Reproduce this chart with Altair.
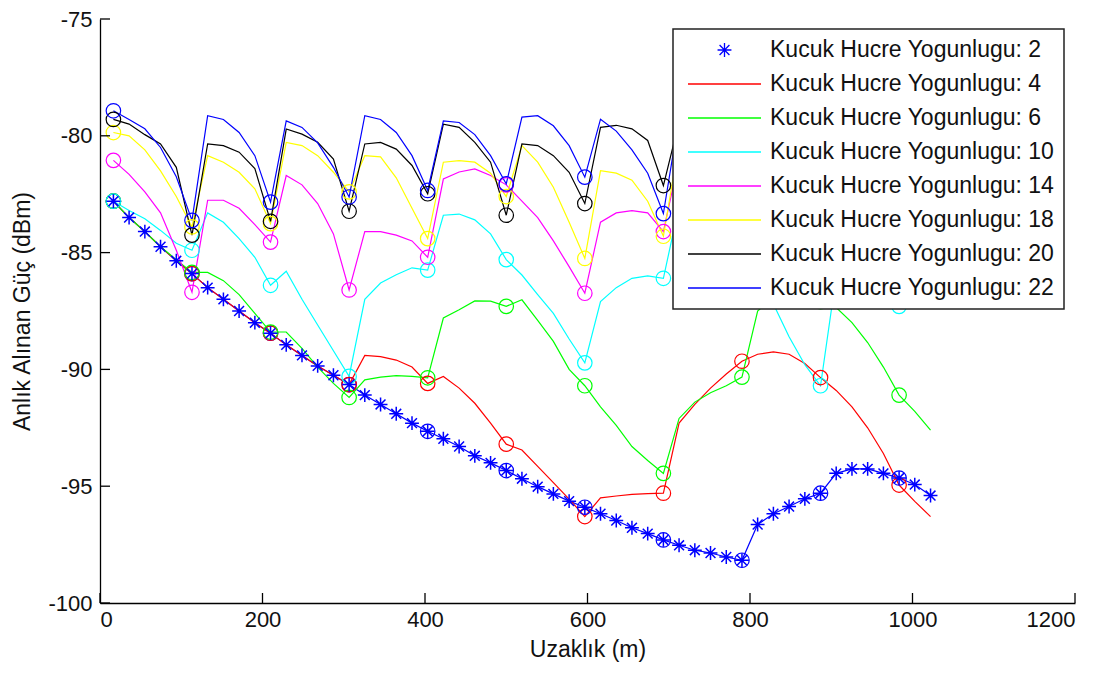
import altair as alt
import pandas as pd

# ---------------- data ----------------
distance_m = [16.5, 35.8, 55.2, 74.5, 93.9, 113.2, 132.5, 151.9, 171.2, 190.6,
              209.9, 229.2, 248.6, 267.9, 287.3, 306.6, 325.9, 345.3, 364.6, 384.0,
              403.3, 422.6, 442.0, 461.3, 480.7, 500.0, 519.3, 538.7, 558.0, 577.4,
              596.7, 616.0, 635.4, 654.7, 674.1, 693.4, 712.7, 732.1, 751.4, 770.8,
              790.1, 809.4, 828.8, 848.1, 867.5, 886.8, 906.1, 925.5, 944.8, 964.2,
              983.5, 1002.8, 1022.2]

labels = ["Kucuk Hucre Yogunlugu: 2", "Kucuk Hucre Yogunlugu: 4",
          "Kucuk Hucre Yogunlugu: 6", "Kucuk Hucre Yogunlugu: 10",
          "Kucuk Hucre Yogunlugu: 14", "Kucuk Hucre Yogunlugu: 18",
          "Kucuk Hucre Yogunlugu: 20", "Kucuk Hucre Yogunlugu: 22"]
colors = ["#0000FF", "#FF0000", "#00FF00", "#00FFFF",
          "#FF00FF", "#FFFF00", "#000000", "#0000FF"]

power_2 = [-82.8, -83.5, -84.1, -84.75, -85.35, -85.9, -86.5, -87.0, -87.5, -88.0,
           -88.45, -88.95, -89.4, -89.85, -90.25, -90.65, -91.1, -91.5, -91.9, -92.3,
           -92.65, -92.97, -93.3, -93.7, -94.0, -94.33, -94.68, -95.02, -95.33, -95.64,
           -95.9, -96.18, -96.47, -96.78, -97.03, -97.3, -97.53, -97.74, -97.86, -98.03,
           -98.17, -96.64, -96.18, -95.87, -95.54, -95.3, -94.45, -94.26, -94.26, -94.45,
           -94.65, -94.93, -95.4]
power_4 = [-82.8, -83.5, -84.1, -84.75, -85.35, -85.9, -86.5, -87.0, -87.5, -88.0,
           -88.45, -88.95, -89.4, -89.85, -90.25, -90.65, -89.4, -89.45, -89.6, -89.9,
           -90.6, -90.3, -90.8, -91.45, -92.3, -93.2, -93.45, -94.15, -94.85, -95.55,
           -96.3, -95.5, -95.42, -95.35, -95.32, -95.3, -92.3, -91.5, -90.8, -90.2,
           -89.65, -89.35, -89.25, -89.35, -89.75, -90.35, -90.9, -91.6, -92.5, -93.6,
           -94.95, -95.65, -96.3]
power_6 = [-82.8, -83.5, -84.1, -84.75, -85.3, -85.85, -85.85, -86.2, -86.8, -87.6,
           -88.4, -88.4, -89.1, -89.9, -90.6, -91.2, -90.45, -90.33, -90.27, -90.3,
           -90.36, -87.8, -87.45, -87.07, -87.08, -87.3, -87.02, -87.9, -88.8, -90.0,
           -90.7, -91.6, -92.4, -93.3, -93.9, -94.45, -92.1, -91.4, -91.0, -90.7,
           -90.33, -87.5, -86.9, -86.8, -86.9, -87.1, -87.35, -88.0, -88.85, -89.9,
           -91.1, -91.8, -92.6]
power_10 = [-82.8, -83.2, -83.55, -84.05, -84.6, -84.9, -83.3, -83.7, -84.4, -85.2,
            -86.4, -85.8, -87.0, -88.1, -89.2, -90.3, -87.0, -86.3, -85.95, -85.65,
            -85.75, -83.4, -83.35, -83.6, -84.2, -85.3, -85.96, -86.8, -87.6, -88.7,
            -89.72, -87.1, -86.5, -86.1, -86.0, -86.1, -83.0, -82.9, -83.5, -84.5,
            -86.0, -85.5, -87.2, -88.6, -89.8, -90.7, -86.0, -85.8, -86.0, -86.5,
            -87.3, -85.5, -85.8]
power_14 = [-81.05, -81.65, -82.4, -83.3, -84.9, -86.7, -82.76, -82.76, -83.1, -83.8,
            -84.55, -81.7, -82.1, -82.9, -84.2, -86.6, -84.1, -84.1, -84.25, -84.5,
            -85.2, -81.85, -81.55, -81.42, -81.7, -82.1, -82.8, -83.5, -84.5, -85.6,
            -86.74, -83.7, -83.3, -83.2, -83.3, -84.1, -81.0, -81.2, -81.6, -82.3,
            -83.5, -81.2, -81.3, -81.6, -82.2, -83.3, -81.0, -81.1, -81.5, -82.2,
            -83.2, -81.5, -81.8]
power_18 = [-79.86, -80.0, -80.6, -81.5, -82.6, -83.9, -80.85, -81.13, -81.56, -82.27,
            -83.76, -80.28, -80.42, -80.85, -81.56, -82.4, -80.85, -80.9, -81.8, -83.1,
            -84.4, -81.13, -81.06, -81.13, -81.6, -82.6, -80.42, -81.13, -82.2, -83.7,
            -85.25, -81.49, -81.6, -81.9, -82.8, -84.3, -80.3, -80.5, -81.0, -81.9,
            -83.5, -80.5, -80.7, -81.2, -82.0, -83.5, -80.4, -80.6, -81.0, -81.8,
            -83.0, -81.0, -81.3]
power_20 = [-79.3, -79.5, -79.95, -80.35, -81.35, -84.25, -80.35, -80.42, -80.7, -81.4,
            -83.66, -79.71, -79.93, -80.28, -81.0, -83.23, -80.35, -80.28, -80.57, -81.27,
            -82.48, -79.5, -79.64, -80.28, -81.13, -83.4, -80.35, -80.42, -80.85, -81.56,
            -82.9, -79.64, -79.55, -79.7, -80.2, -82.13, -79.4, -79.3, -79.6, -80.3,
            -82.0, -79.5, -79.4, -79.7, -80.4, -82.0, -79.5, -79.4, -79.8, -80.5,
            -81.8, -79.6, -79.8]
power_22 = [-78.93, -79.3, -79.7, -80.5, -81.75, -83.62, -79.14, -79.3, -79.86, -80.85,
            -82.84, -79.36, -79.64, -80.3, -81.35, -82.62, -79.14, -79.3, -79.86, -80.85,
            -82.34, -79.36, -79.43, -79.95, -80.85, -82.06, -79.2, -79.14, -79.57, -80.42,
            -81.77, -79.29, -79.8, -80.6, -81.6, -83.33, -79.2, -79.3, -79.8, -80.7,
            -82.2, -79.2, -79.3, -79.8, -80.7, -82.2, -79.2, -79.3, -79.8, -80.6,
            -81.9, -79.3, -79.5]

series_values = [power_2, power_4, power_6, power_10,
                 power_14, power_18, power_20, power_22]

x_tick_values = [0, 200, 400, 600, 800, 1000, 1200]
y_tick_values = [-100, -95, -90, -85, -80, -75]

# legend symbols: '*' for the first series, a line for the others
star_path = ("M0,-0.19L0,0.19M-0.19,0L0.19,0"
             "M-0.135,-0.135L0.135,0.135M-0.135,0.135L0.135,-0.135")
legend_shapes = [star_path] + ["stroke"] * 7

rows = []
for k, (lab, vals) in enumerate(zip(labels, series_values)):
    for i, (d, v) in enumerate(zip(distance_m, vals)):
        rows.append({"series": lab, "k": k, "idx": i, "x": d, "y": v})
df = pd.DataFrame(rows)

W, H = 975, 584
FONT = "Liberation Sans"

x_scale = alt.Scale(domain=[0, 1200], nice=False, zero=False)
y_scale = alt.Scale(domain=[-100, -75], nice=False, zero=False)

x_axis = alt.Axis(values=x_tick_values, ticks=False, tickSize=0, grid=False,
                  domainColor="black", domainWidth=1.3,
                  labelFont=FONT, labelFontSize=22, labelColor="#111",
                  labelPadding=6, labelExpr="datum.value + ''",
                  titleFont=FONT, titleFontSize=23, titleFontWeight="normal",
                  titleColor="#111", titlePadding=8)
y_axis = alt.Axis(values=y_tick_values, ticks=False, tickSize=0, grid=False,
                  domainColor="black", domainWidth=1.3,
                  labelFont=FONT, labelFontSize=22, labelColor="#111",
                  labelPadding=8, labelExpr="datum.value + ''",
                  titleFont=FONT, titleFontSize=23, titleFontWeight="normal",
                  titleColor="#111", titlePadding=13)

X = alt.X("x:Q", scale=x_scale, axis=x_axis, title="Uzaklık (m)")
Y = alt.Y("y:Q", scale=y_scale, axis=y_axis, title="Anlık Alınan Güç (dBm)")

# plain stroke colours keyed by series number (separate scale, no legend)
stroke_plain = alt.Stroke("k:O", scale=alt.Scale(domain=list(range(8)), range=colors),
                          legend=None)

legend = alt.Legend(title=None, orient="none", legendX=573, legendY=10,
                    padding=9, fillColor="white", strokeColor="#222",
                    labelFont=FONT, labelFontSize=23, labelColor="#111",
                    labelLimit=500, labelOffset=8, symbolOffset=5,
                    symbolSize=5329, symbolStrokeWidth=1.3,
                    clipHeight=24, rowPadding=10)

base = alt.Chart(df)

lines = base.mark_line(strokeWidth=1.2).encode(
    x=X, y=Y, stroke=stroke_plain, detail="series:N", order="idx:Q")

circles = base.transform_filter("datum.idx % 5 == 0").mark_point(
    shape="circle", filled=False, size=210, strokeWidth=1.2, opacity=1
).encode(x=X, y=Y, stroke=stroke_plain, detail="series:N")

stars = base.transform_filter("datum.k == 0").mark_point(
    filled=False, size=5329, strokeWidth=1.5, opacity=1
).encode(
    x=X, y=Y,
    color=alt.Color("series:N", scale=alt.Scale(domain=labels, range=colors),
                    legend=legend),
    shape=alt.Shape("series:N", scale=alt.Scale(domain=labels, range=legend_shapes),
                    legend=legend),
)

# inward tick marks (MATLAB style)
xticks = alt.Chart(pd.DataFrame({"x": x_tick_values})).mark_rule(
    color="black", strokeWidth=1.3
).encode(x=X, y=alt.value(H), y2=alt.value(H - 10))

yticks = alt.Chart(pd.DataFrame({"y": y_tick_values})).mark_rule(
    color="black", strokeWidth=1.3
).encode(y=Y, x=alt.value(0), x2=alt.value(10))

chart = alt.layer(lines, circles, stars, xticks, yticks).properties(
    width=W, height=H,
    autosize=alt.AutoSizeParams(type="none"),
    padding={"left": 92, "top": 11, "right": 28, "bottom": 62},
).configure_view(stroke=None).configure_legend(strokeWidth=1.5)

chart.save("out.html", embed_options={"renderer": "svg", "actions": False})
